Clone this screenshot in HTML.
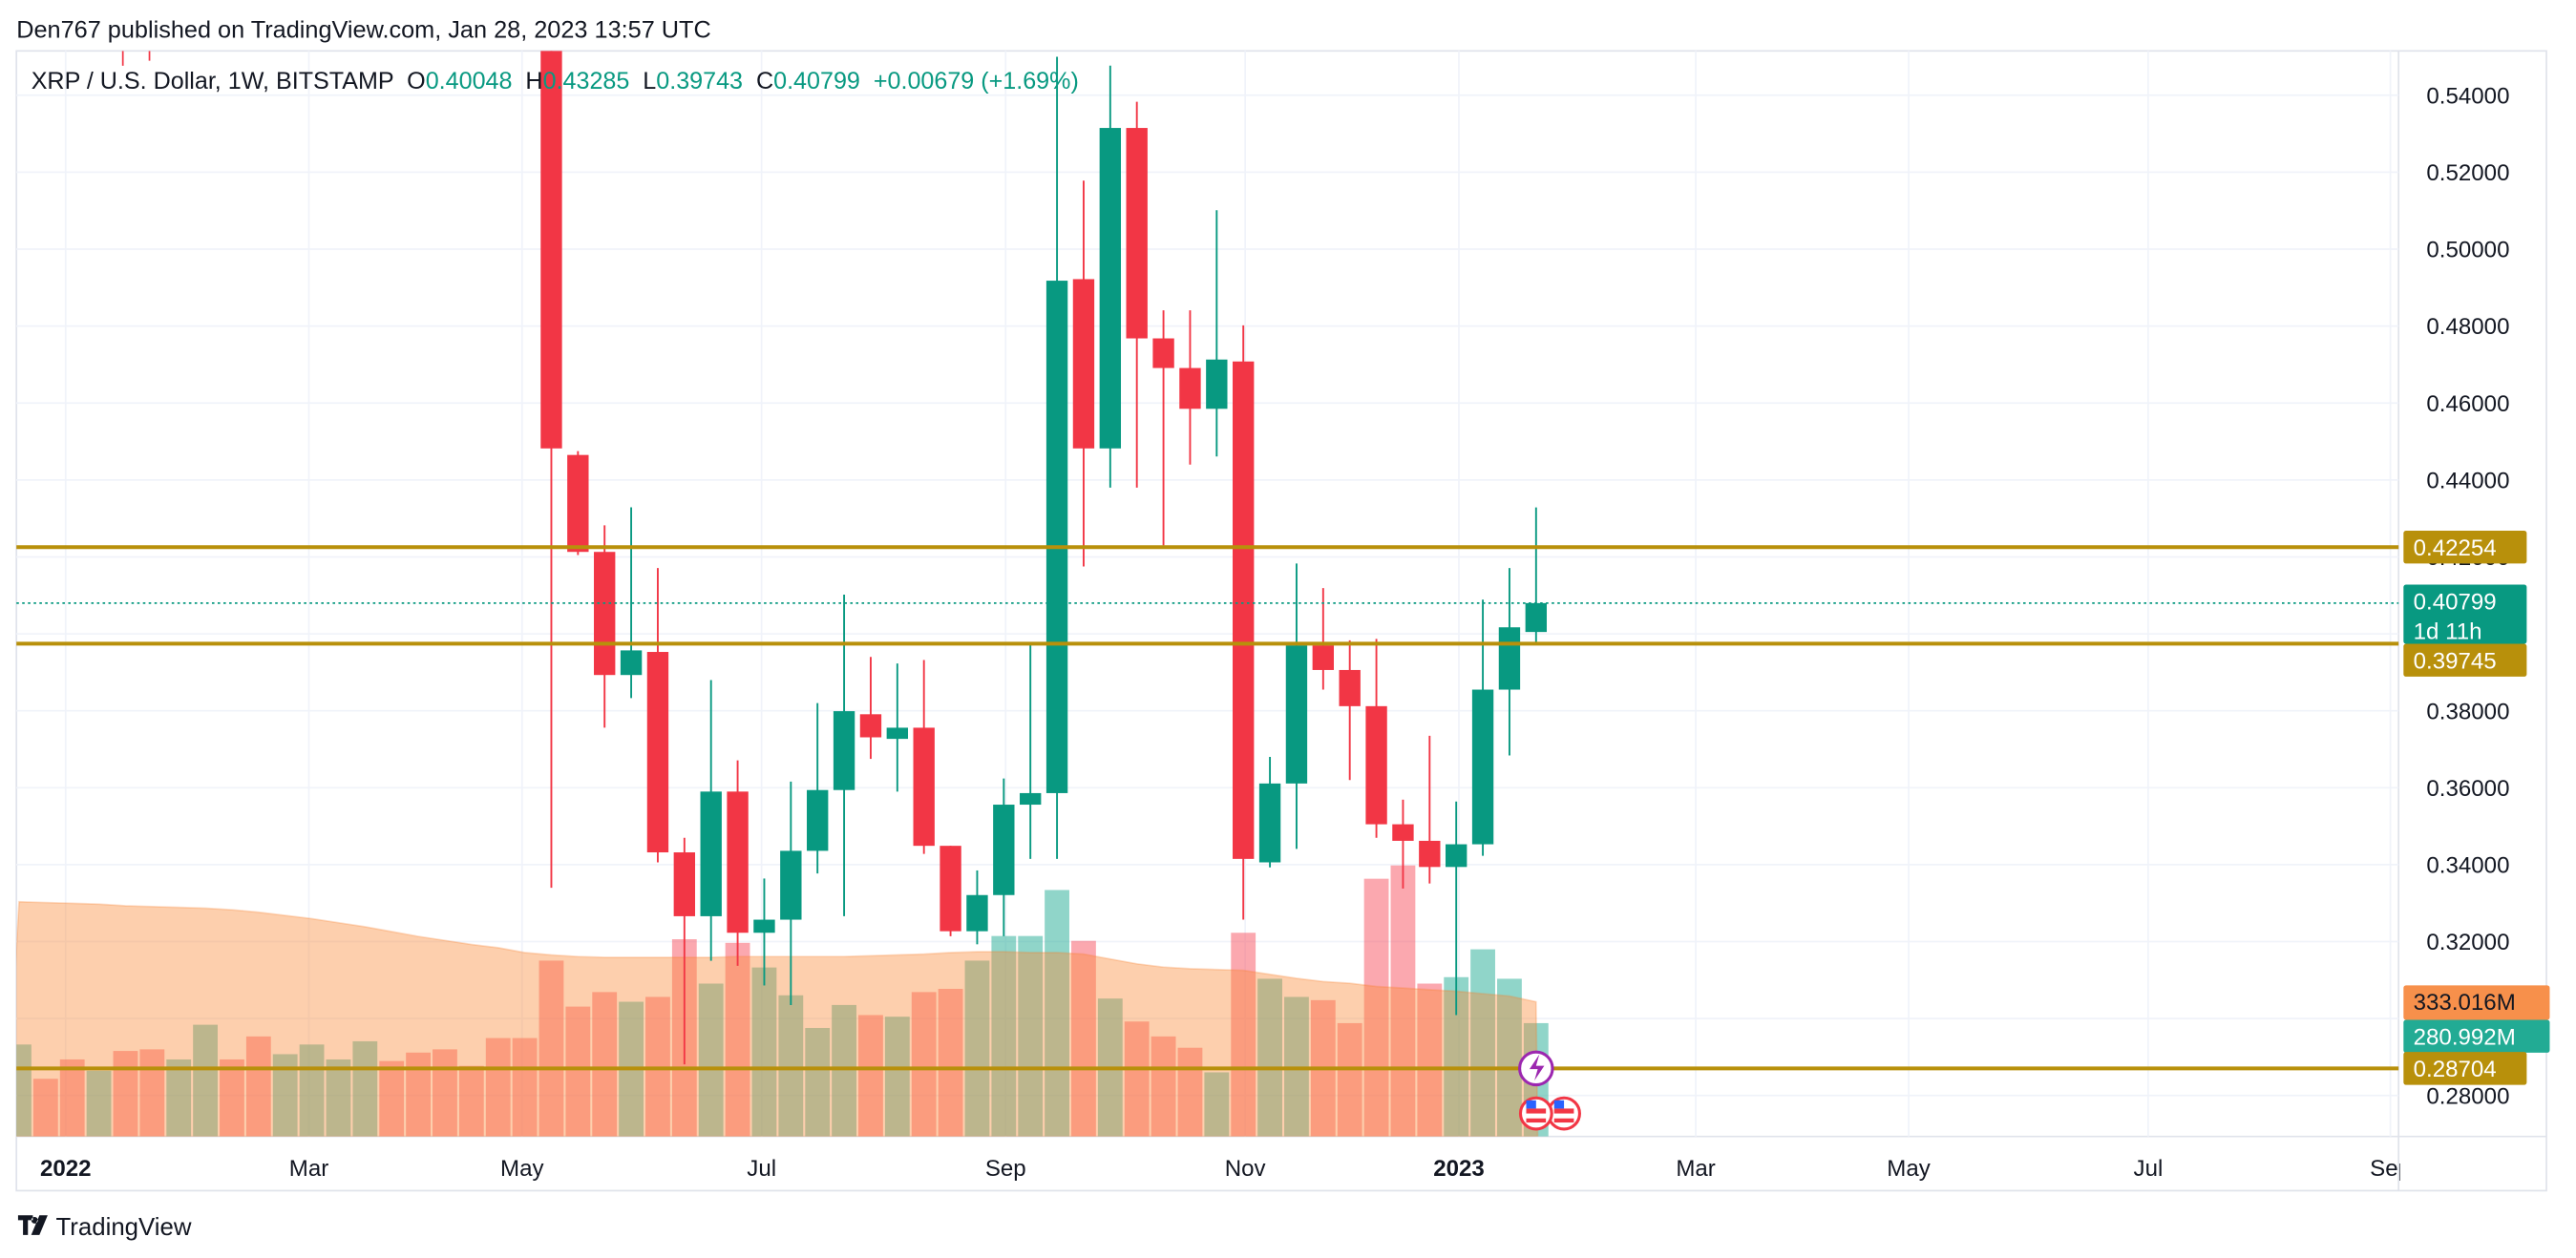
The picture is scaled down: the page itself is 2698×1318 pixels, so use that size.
<!DOCTYPE html>
<html><head><meta charset="utf-8"><style>
html,body{margin:0;padding:0;background:#fff;}
svg{display:block;font-family:"Liberation Sans",sans-serif;}
</style></head><body>
<svg id="chart" width="2698" height="1318" viewBox="0 0 1568 766" preserveAspectRatio="none" xmlns="http://www.w3.org/2000/svg">
<rect x="0" y="0" width="1568" height="766" fill="#fff"/>
<text x="10" y="23" font-size="14.7" fill="#131722">Den767 published on TradingView.com, Jan 28, 2023 13:57 UTC</text>
<g id="grid"></g>
<g id="vol"></g>
<g id="candles"></g>
<g id="levels"></g>
<g id="axes"></g>
<text x="19" y="54" font-size="14.6" fill="#131722" xml:space="preserve">XRP / U.S. Dollar, 1W, BITSTAMP  O<tspan fill="#089981">0.40048</tspan>  H<tspan fill="#089981">0.43285</tspan>  L<tspan fill="#089981">0.39743</tspan>  C<tspan fill="#089981">0.40799</tspan>  <tspan fill="#089981">+0.00679 (+1.69%)</tspan></text>
<g>
<path d="M11 740h9v3h-3v9h-3v-9h-3z M21 741a2 2 0 1 0 0.1 0z M24 740h5l-5 12h-5z" fill="#131722"/>
<text x="34" y="752" font-size="15" fill="#131722">TradingView</text>
</g>
</svg>
<script>
const NS='http://www.w3.org/2000/svg';
// weekly candles, index i (0 = week of Jan 3 2022)
const candleIdx=[18,19,20,21,22,23,24,25,26,27,28,29,30,31,32,33,34,35,36,37,38,39,40,41,42,43,44,45,46,47,48,49,50,51,52,53,54,55];
const opens =[0.62,0.4465,0.4213,0.3893,0.3953,0.3432,0.3266,0.3590,0.3223,0.3257,0.3436,0.3594,0.3791,0.3727,0.3756,0.3449,0.3227,0.3321,0.3556,0.3586,0.4922,0.4482,0.5315,0.4768,0.4691,0.4585,0.4708,0.3406,0.3611,0.3970,0.3906,0.3812,0.3505,0.3462,0.3394,0.3453,0.3855,0.40048];
const highs =[0.66,0.4475,0.4282,0.4329,0.4171,0.3470,0.3880,0.3671,0.3364,0.3616,0.3820,0.4102,0.3940,0.3923,0.3932,0.3449,0.3385,0.3624,0.3978,0.55,0.5178,0.5477,0.5383,0.4841,0.4841,0.5101,0.4802,0.3680,0.4183,0.4119,0.3983,0.3987,0.3569,0.3735,0.3564,0.4089,0.4171,0.43285];
const lows  =[0.334,0.4205,0.3756,0.3833,0.3406,0.2881,0.3150,0.3137,0.3086,0.3035,0.3377,0.3266,0.3675,0.3590,0.3428,0.3214,0.3193,0.3214,0.3415,0.3415,0.4175,0.4380,0.4380,0.4230,0.4440,0.4461,0.3257,0.3393,0.3441,0.3855,0.3620,0.3470,0.3338,0.3351,0.3009,0.3423,0.3684,0.39743];
const closes=[0.4482,0.4213,0.3893,0.3957,0.3432,0.3266,0.3590,0.3223,0.3257,0.3436,0.3594,0.3799,0.3731,0.3756,0.3449,0.3227,0.3321,0.3556,0.3586,0.4918,0.4482,0.5315,0.4768,0.4691,0.4585,0.4713,0.3415,0.3611,0.3970,0.3906,0.3812,0.3505,0.3462,0.3394,0.3453,0.3855,0.4017,0.40799];
// volume (millions), index i from -2 to 55
const volStart=-2;
const volumes=[228,143,191,163,212,216,191,277,191,248,204,228,191,236,187,208,216,175,244,244,436,322,358,334,346,489,379,480,419,350,269,326,301,297,358,366,436,497,497,611,485,342,285,248,220,159,505,391,346,338,281,639,672,379,395,464,391,281];
const volUp=[1,0,0,1,0,0,1,1,0,0,1,1,1,1,0,0,0,0,0,0,0,0,0,1,0,0,1,0,1,1,1,1,0,1,0,0,1,1,1,1,0,1,0,0,0,1,0,1,1,0,0,0,0,0,1,1,1,1];
const volMA=[582,580,578,576,572,570,568,566,562,556,548,540,530,520,508,496,486,476,468,456,450,446,444,444,444,444,444,446,446,446,446,446,448,450,452,456,458,458,456,456,452,440,428,420,416,414,412,402,392,384,380,372,368,364,360,354,348,334];
const priceTicks=[0.28,0.30,0.32,0.34,0.36,0.38,0.40,0.42,0.44,0.46,0.48,0.50,0.52,0.54];
const monthLabels=['2022','Mar','May','Jul','Sep','Nov','2023','Mar','May','Jul','Sep'];
const monthPos=[-0.25,8.89,16.9,25.9,35.07,44.07,52.1,61.0,69.0,78.0,87.1];
const levelPrices=[0.42254,0.39745,0.28704];

const PL=10,PR=1460,PT=31,PB=692;
const X=i=>44+i*16.2;
const Y=p=>58+(0.54-p)*2342.5;
const VY=v=>PB-v*0.2456;
function mk(tag,attrs,parent){const e=document.createElementNS(NS,tag);for(const k in attrs)e.setAttribute(k,attrs[k]);parent.appendChild(e);return e;}
const svg=document.getElementById('chart');
const defs=mk('defs',{},svg);
const cp=mk('clipPath',{id:'plot'},defs);mk('rect',{x:PL,y:PT,width:PR-PL,height:PB-PT},cp);
const grid=document.getElementById('grid');
mk('rect',{x:PL,y:PT,width:PR-PL+90,height:725-PT,fill:'none',stroke:'#e0e3eb','stroke-width':1},grid);
mk('line',{x1:PR,x2:PR,y1:PT,y2:725,stroke:'#e0e3eb'},grid);
mk('line',{x1:PL,x2:PR+90,y1:PB,y2:PB,stroke:'#e0e3eb'},grid);
priceTicks.forEach(p=>{const l=mk('line',{x1:PL,x2:PR,y1:Y(p),y2:Y(p),stroke:'#f0f3fa','stroke-width':1},grid);
 
 });
monthPos.forEach(m=>{const l=mk('line',{x1:X(m),x2:X(m),y1:PT,y2:PB,stroke:'#f0f3fa'},grid);
 
 });
// volume
const vol=document.getElementById('vol');vol.setAttribute('clip-path','url(#plot)');
volumes.forEach((v,k)=>{const i=volStart+k;const r=mk('rect',{x:X(i)-7.5,y:VY(v),width:15,height:PB-VY(v),fill:volUp[k]?'rgba(34,171,148,0.5)':'rgba(247,82,95,0.5)'},vol);
 
 });
let d='M'+(X(volStart)-8)+' '+PB;
volMA.forEach((v,k)=>{d+=' L'+X(volStart+k)+' '+VY(v);});
d+=' L'+(X(volStart+volMA.length-1)+1)+' '+PB+' Z';
const area=mk('path',{d:d,fill:'rgba(250,140,60,0.42)',stroke:'rgba(247,125,40,0.25)','stroke-width':1},vol);


// candles
const cg=document.getElementById('candles');cg.setAttribute('clip-path','url(#plot)');
mk('line',{x1:X(1.9),x2:X(1.9),y1:PT,y2:PT+9,stroke:'#f23645'},cg);
mk('line',{x1:X(2.9),x2:X(2.9),y1:PT,y2:PT+6,stroke:'#f23645'},cg);
candleIdx.forEach((i,k)=>{const up=closes[k]>=opens[k];const col=up?'#089981':'#f23645';const x=X(i);
 const g=mk('g',{},cg);
 
 
 mk('line',{x1:x,x2:x,y1:Y(highs[k]),y2:Y(lows[k]),stroke:col,'stroke-width':1.1},g);
 const t=Y(Math.max(opens[k],closes[k])),b=Y(Math.min(opens[k],closes[k]));
 mk('rect',{x:x-6.5,y:t,width:13,height:Math.max(1,b-t),fill:col},g);});
// levels
const lv=document.getElementById('levels');
mk('line',{x1:PL,x2:PR,y1:Y(0.40799),y2:Y(0.40799),stroke:'#089981','stroke-width':1,'stroke-dasharray':'1.5 2'},lv);
levelPrices.forEach(p=>{const l=mk('line',{x1:PL,x2:PR,y1:Y(p),y2:Y(p),stroke:'#b8900b','stroke-width':2.3},lv);
 
 });
// icons
const ic=mk('g',{},lv);


mk('circle',{cx:935,cy:Y(0.28704),r:10,fill:'#fff',stroke:'#9c27b0','stroke-width':1.8},ic);
mk('path',{d:'M937 642 l-6 9 h5 l-2 7 l6 -9 h-5z',fill:'#9c27b0'},ic);
[952,935].forEach(cx=>{mk('circle',{cx:cx,cy:678,r:9.5,fill:'#fff',stroke:'#f23645','stroke-width':1.8},ic);
 mk('rect',{x:cx-6,y:675,width:12,height:3,fill:'#f23645'},ic);
 mk('rect',{x:cx-6,y:681,width:12,height:2.5,fill:'#f23645'},ic);
 mk('rect',{x:cx-6,y:670,width:6,height:5,fill:'#2962ff'},ic);});
// axes labels
const ax=document.getElementById('axes');
priceTicks.forEach(p=>{const t=mk('text',{x:1477,y:Y(p)+5,'font-size':14,fill:'#131722'},ax);t.textContent=p.toFixed(5);
 
 });
monthLabels.forEach((m,k)=>{const t=mk('text',{x:X(monthPos[k]),y:716,'font-size':14,'text-anchor':'middle',fill:'#131722','font-weight':(m.length==4?'bold':'normal')},ax);t.textContent=m;
 
 });
mk('rect',{x:1461,y:700,width:20,height:22,fill:'#fff'},ax);
function box(y1,h,fill,lines,w,name){const g=mk('g',{},ax);
 
 
 mk('rect',{x:1463,y:y1,width:w,height:h,fill:fill,rx:1.5},g);
 lines.forEach((s,j)=>{const t=mk('text',{x:1469,y:y1+15+j*18,'font-size':14,fill:name==='volume-ma-label'?'#131722':'#fff'},g);t.textContent=s;});}
box(Y(0.42254)-10,20,'#b8900b',['0.42254'],75,'level-label-upper');
box(356,36,'#089981',['0.40799','1d 11h'],75,'last-price-label');
box(392,20,'#b8900b',['0.39745'],75,'level-label-lower');
box(600,21,'#f7904b',['333.016M'],89,'volume-ma-label');
box(621,20,'#22ab94',['280.992M'],89,'volume-label');
box(Y(0.28704)-10,20,'#b8900b',['0.28704'],75,'level-label-bottom');
</script>
</body></html>
